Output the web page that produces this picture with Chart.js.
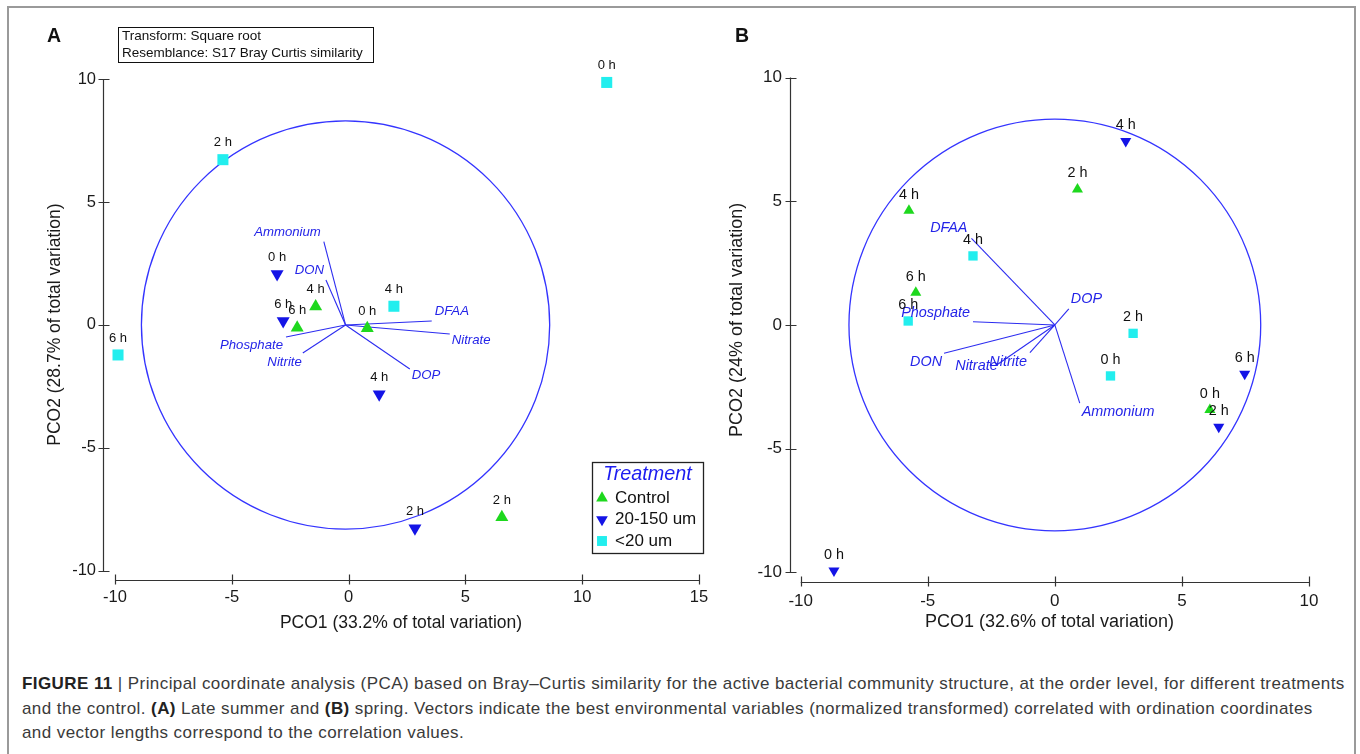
<!DOCTYPE html>
<html><head><meta charset="utf-8">
<script src="https://cdn.jsdelivr.net/npm/chart.js@4.4.1/dist/chart.umd.min.js"></script>
<style>
html,body{margin:0;padding:0;background:#fff;}
body{width:1360px;height:754px;position:relative;overflow:hidden;font-family:"Liberation Sans",Arial,sans-serif;}
#frame{position:absolute;left:7px;top:6px;width:1349px;height:800px;border:2px solid #9a9a9a;box-sizing:border-box;}
.panel{position:absolute;top:0;height:660px;}
#wrapA{left:0;width:720px;}
#wrapB{left:720px;width:640px;}
.plabel{position:absolute;font-weight:bold;font-size:19.5px;line-height:20px;color:#111;}
#boxA{position:absolute;left:118px;top:27px;width:256px;height:36px;border:1.5px solid #111;box-sizing:border-box;font-size:13.5px;line-height:16.5px;padding:0 0 0 3px;color:#111;}
#caption{position:absolute;left:22px;top:672px;font-size:17px;letter-spacing:0.42px;line-height:24.5px;color:#3a3a3a;white-space:nowrap;}
#caption b{color:#222;}
</style></head><body>
<div id="frame"></div>
<div class="panel" id="wrapA"><canvas id="chartA"></canvas></div>
<div class="panel" id="wrapB"><canvas id="chartB"></canvas></div>
<div class="plabel" style="left:47px;top:25px;">A</div>
<div class="plabel" style="left:735px;top:25px;">B</div>
<div id="boxA">Transform: Square root<br>Resemblance: S17 Bray Curtis similarity</div>
<div id="caption"><b>FIGURE 11</b> | Principal coordinate analysis (PCA) based on Bray–Curtis similarity for the active bacterial community structure, at the order level, for different treatments<br>and the control. <b>(A)</b> Late summer and <b>(B)</b> spring. Vectors indicate the best environmental variables (normalized transformed) correlated with ordination coordinates<br>and vector lengths correspond to the correlation values.</div>
<script>
// ---------- data ----------
const timeLabels = ['0 h', '2 h', '4 h', '6 h'];
const treatments = ['Control', '20-150 um', '<20 um'];
const vectorNames = ['Ammonium', 'DON', 'DFAA', 'Nitrate', 'DOP', 'Nitrite', 'Phosphate'];

// Panel A (late summer)
const aControlX = [0.80, 6.56, -1.41, -2.20];
const aControlY = [-0.13, -7.82, 0.75, -0.11];
const aMidX = [-3.06, 2.84, 1.31, -2.80];
const aMidY = [2.07, -8.27, -2.82, 0.16];
const aSmallX = [11.05, -5.38, 1.94, -9.87];
const aSmallY = [9.86, 6.72, 0.76, -1.22];
const aVecX = [-1.06, -0.97, 3.56, 4.33, 2.62, -1.96, -2.68];
const aVecY = [3.39, 1.83, 0.16, -0.37, -1.79, -1.14, -0.49];
const aCircle = [-0.13, 0, 8.3];   // centre x, centre y, radius (PCO2 units)
const aXTicks = [-10, -5, 0, 5, 10, 15];
const aYTicks = [-10, -5, 0, 5, 10];

// Panel B (spring)
const bControlX = [6.10, 0.89, -5.74, -5.47];
const bControlY = [-3.43, 5.48, 4.62, 1.31];
const bMidX = [-8.69, 6.45, 2.79, 7.47];
const bMidY = [-9.93, -4.12, 7.43, -1.98];
const bSmallX = [2.19, 3.08, -3.22, -5.77];
const bSmallY = [-2.06, -0.34, 2.79, 0.16];
const bVecX = [0.98, -4.36, -3.28, -2.29, 0.55, -0.98, -3.22];
const bVecY = [-3.16, -1.14, 3.50, -1.62, 0.65, -1.12, 0.13];
const bCircle = [0, 0, 8.32];
const bXTicks = [-10, -5, 0, 5, 10];
const bYTicks = [-10, -5, 0, 5, 10];

// ---------- style ----------
const COL = {green:'#1ed81e', blue:'#1414e6', cyan:'#22eeee', vec:'#2c2cf0', circle:'#3434ff', vlabel:'#2424e8', axis:'#333', text:'#1a1a1a'};
const FONT = '"Liberation Sans", Arial, sans-serif';
Chart.defaults.font.family = FONT;

const styleA = {
  xMin:-10.513, xMax:15, yMin:-10.37, yMax:10,
  padTop:79, padRight:21, yAxisW:103, xAxisH:80,
  tickSize:16.5, titleSize:17.5, xTickPad:8, yTickPad:7, xTitlePadB:26.5, yTitlePadT:44.5, yTitleShift:2,
  triR:7.5, rectR:7.8, ptFont:13, ptDy:-17, vFont:13.2,
  vecPos:[['right',-3,-9],['right',-2,-10],['left',3,-10],['left',2,6],['left',2,6],['right',-1,9],['right',-3,8]],
  legend:{left:592, top:462, w:111, h:91}
};
const styleB = {
  xMin:-10.42, xMax:10, yMin:-10.4, yMax:10,
  padTop:77.5, padRight:51, yAxisW:70, xAxisH:77.7,
  tickSize:17, titleSize:18, xTickPad:8.5, yTickPad:8, xTitlePadB:27, yTitlePadT:6.2, yTitleShift:4,
  triR:6.4, rectR:6.6, ptFont:14.4, ptDy:-16, vFont:14.4,
  vecPos:[['left',2,9],['right',-2,9],['right',-4,-10],['right',1,1],['left',2,-10],['right',-3,9],['right',-3,-9]],
  legend:null
};

function pts(xs, ys) { return xs.map((x, i) => ({x: x, y: ys[i]})); }

// ---------- plugins ----------
const circlePlugin = {
  id: 'corrCircle',
  beforeDatasetsDraw(chart, args, o) {
    const {ctx, scales: {x, y}} = chart;
    const cx = x.getPixelForValue(o.c[0]), cy = y.getPixelForValue(o.c[1]);
    const r = cy - y.getPixelForValue(o.c[1] + o.c[2]);
    ctx.save(); ctx.strokeStyle = COL.circle; ctx.lineWidth = 1.3;
    ctx.beginPath(); ctx.arc(cx, cy, r, 0, Math.PI * 2); ctx.stroke(); ctx.restore();
  }
};
const axisPlugin = {
  id: 'offsetAxes',
  beforeDatasetsDraw(chart) {
    const {ctx, chartArea, scales: {x, y}} = chart;
    const xt = x.ticks.map(t => t.value), yt = y.ticks.map(t => t.value);
    const by = Math.round(chartArea.bottom) + 0.5, lx = Math.round(chartArea.left) + 0.5;
    ctx.save(); ctx.strokeStyle = COL.axis; ctx.lineWidth = 1.2; ctx.beginPath();
    ctx.moveTo(x.getPixelForValue(xt[0]), by); ctx.lineTo(x.getPixelForValue(xt[xt.length - 1]), by);
    xt.forEach(v => { const p = Math.round(x.getPixelForValue(v)) + 0.5; ctx.moveTo(p, by - 6); ctx.lineTo(p, by + 4); });
    ctx.moveTo(lx, y.getPixelForValue(yt[0])); ctx.lineTo(lx, y.getPixelForValue(yt[yt.length - 1]));
    yt.forEach(v => { const p = Math.round(y.getPixelForValue(v)) + 0.5; ctx.moveTo(lx - 5, p); ctx.lineTo(lx + 6, p); });
    ctx.stroke(); ctx.restore();
  }
};
const labelPlugin = {
  id: 'markLabels',
  afterDatasetsDraw(chart, args, o) {
    const ctx = chart.ctx;
    ctx.save();
    chart.data.datasets.forEach((ds, di) => {
      const meta = chart.getDatasetMeta(di);
      if (ds.pointTexts) {
        ctx.font = o.ptFont + 'px ' + FONT; ctx.fillStyle = '#111';
        ctx.textAlign = 'center'; ctx.textBaseline = 'middle';
        meta.data.forEach((el, i) => ctx.fillText(ds.pointTexts[i], el.x, el.y + o.ptDy));
      }
      if (ds.vectorLabel) {
        const el = meta.data[1], p = ds.labelPos;
        ctx.font = 'italic ' + o.vFont + 'px ' + FONT; ctx.fillStyle = COL.vlabel;
        ctx.textAlign = p[0]; ctx.textBaseline = 'middle';
        ctx.fillText(ds.vectorLabel, el.x + p[1], el.y + p[2]);
      }
    });
    ctx.restore();
  }
};
const legendPlugin = {
  id: 'treatLegend',
  afterDatasetsDraw(chart, args, o) {
    if (!o.box) return;
    const ctx = chart.ctx, b = o.box;
    ctx.save();
    ctx.fillStyle = '#fff'; ctx.fillRect(b.left, b.top, b.w, b.h);
    ctx.strokeStyle = '#222'; ctx.lineWidth = 1.3; ctx.strokeRect(b.left + 0.5, b.top + 0.5, b.w, b.h);
    ctx.font = 'italic 19.8px ' + FONT; ctx.fillStyle = '#1c1cf0'; ctx.textAlign = 'center'; ctx.textBaseline = 'middle';
    ctx.fillText('Treatment', b.left + b.w / 2, b.top + 12);
    const items = chart.data.datasets.filter(d => d.legendItem);
    items.forEach((d, i) => {
      const yy = b.top + 36 + i * 21.5, xx = b.left + 10;
      ctx.fillStyle = d.backgroundColor;
      Chart.helpers.drawPoint(ctx, {pointStyle: d.pointStyle, rotation: d.rotation, radius: d.pointRadius * 0.9, borderWidth: 0}, xx, yy);
      ctx.fillStyle = '#111'; ctx.font = '17px ' + FONT; ctx.textAlign = 'left';
      ctx.fillText(d.label, b.left + 23, yy);
    });
    ctx.restore();
  }
};

function buildPanel(id, S, D) {
  const ds = [];
  vectorNames.forEach((n, i) => {
    ds.push({label: n, data: [{x: D.circle[0], y: D.circle[1]}, {x: D.vecX[i], y: D.vecY[i]}],
      showLine: true, borderColor: COL.vec, borderWidth: 1.1, pointRadius: 0, pointHoverRadius: 0,
      order: 3, clip: false, vectorLabel: n, labelPos: S.vecPos[i]});
  });
  const groups = [
    [treatments[0], D.cX, D.cY, 'triangle', 0, S.triR, COL.green],
    [treatments[1], D.mX, D.mY, 'triangle', 180, S.triR, COL.blue],
    [treatments[2], D.sX, D.sY, 'rect', 0, S.rectR, COL.cyan]
  ];
  groups.forEach(g => ds.push({label: g[0], data: pts(g[1], g[2]), pointStyle: g[3], rotation: g[4],
    pointRadius: g[5], pointHoverRadius: g[5], backgroundColor: g[6], borderColor: g[6], borderWidth: 0,
    order: 1, clip: false, pointTexts: timeLabels, legendItem: true}));
  // leading spaces nudge the rotated y title upward to sit where the reference has it
  const yTitle = ' '.repeat(S.yTitleShift) + D.yTitle;
  return new Chart(document.getElementById(id), {
    type: 'scatter',
    data: {datasets: ds},
    options: {
      responsive: true, maintainAspectRatio: false, animation: false, events: [],
      layout: {padding: {left: 0, top: S.padTop, right: S.padRight, bottom: 0}},
      plugins: {
        legend: {display: false}, tooltip: {enabled: false},
        corrCircle: {c: D.circle},
        markLabels: {ptFont: S.ptFont, ptDy: S.ptDy, vFont: S.vFont},
        treatLegend: {box: S.legend}
      },
      scales: {
        x: {type: 'linear', min: S.xMin, max: S.xMax,
          grid: {display: false, drawTicks: false}, border: {display: false},
          ticks: {font: {size: S.tickSize}, color: COL.text, padding: S.xTickPad, maxRotation: 0},
          afterBuildTicks: s => { s.ticks = D.xTicks.map(v => ({value: v})); },
          afterFit: s => { s.height = S.xAxisH; },
          title: {display: true, text: D.xTitle, font: {size: S.titleSize}, color: COL.text, padding: {top: 0, bottom: S.xTitlePadB}}},
        y: {type: 'linear', min: S.yMin, max: S.yMax,
          grid: {display: false, drawTicks: false}, border: {display: false},
          ticks: {font: {size: S.tickSize}, color: COL.text, padding: S.yTickPad},
          afterBuildTicks: s => { s.ticks = D.yTicks.map(v => ({value: v})); },
          afterFit: s => { s.width = S.yAxisW; },
          title: {display: true, text: yTitle, font: {size: S.titleSize}, color: COL.text, padding: {top: S.yTitlePadT, bottom: 0}}}
      }
    },
    plugins: [axisPlugin, circlePlugin, labelPlugin, legendPlugin]
  });
}

buildPanel('chartA', styleA, {cX: aControlX, cY: aControlY, mX: aMidX, mY: aMidY, sX: aSmallX, sY: aSmallY,
  vecX: aVecX, vecY: aVecY, circle: aCircle, xTicks: aXTicks, yTicks: aYTicks,
  xTitle: 'PCO1 (33.2% of total variation)', yTitle: 'PCO2 (28.7% of total variation)'});
buildPanel('chartB', styleB, {cX: bControlX, cY: bControlY, mX: bMidX, mY: bMidY, sX: bSmallX, sY: bSmallY,
  vecX: bVecX, vecY: bVecY, circle: bCircle, xTicks: bXTicks, yTicks: bYTicks,
  xTitle: 'PCO1 (32.6% of total variation)', yTitle: 'PCO2 (24% of total variation)'});
</script>
</body></html>
